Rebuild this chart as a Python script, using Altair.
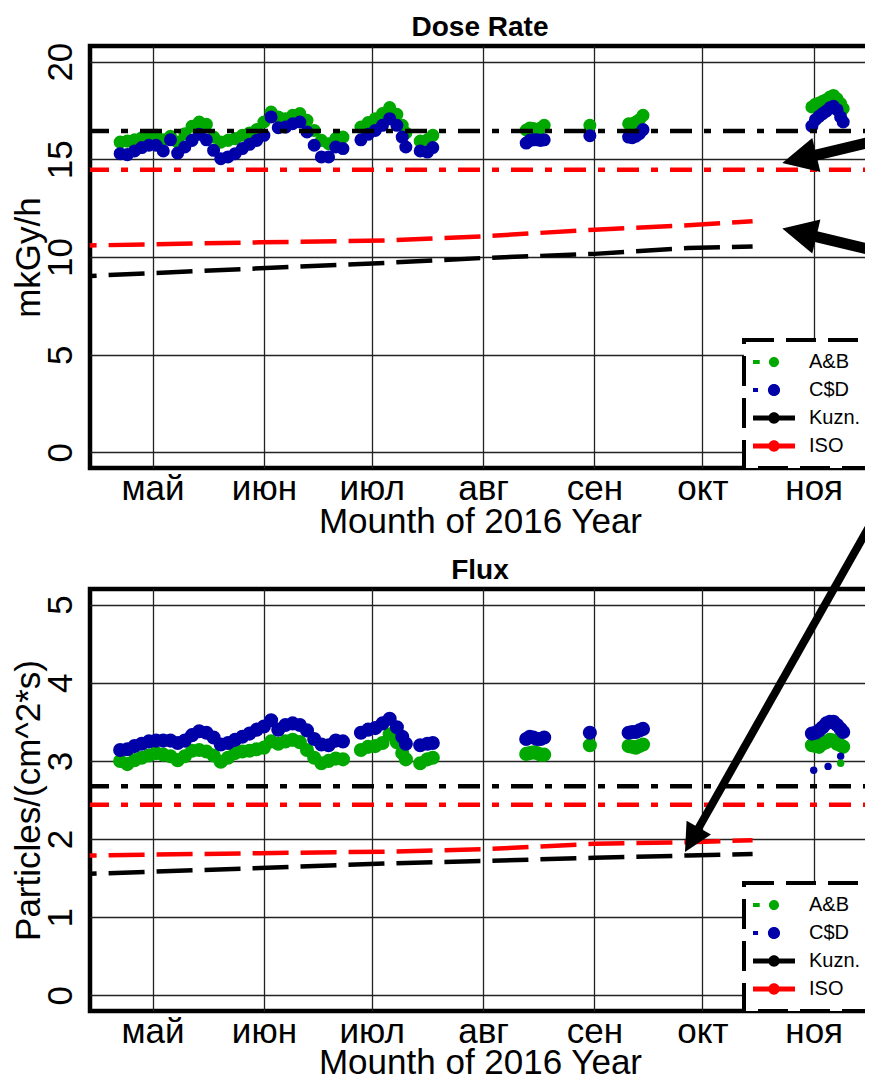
import altair as alt
import pandas as pd

FONT = "Liberation Sans"
MONTH_LABELS = ['янв', 'фев', 'мар', 'апр', 'май', 'июн', 'июл', 'авг', 'сен', 'окт', 'ноя', 'дек']
TICK_MONTHS = [5, 6, 7, 8, 9, 10, 11]
SERIES = ["A&B", "C$D", "Kuzn.", "ISO"]
SERIES_COLORS = ["#00A800", "#0000A8", "#000000", "#FF0000"]
LEGEND_SHAPES = [
    "M-1,-0.1L-0.68,-0.1L-0.68,0.1L-1,0.1Z M-0.24,0A0.24,0.24,0,1,1,0.24,0A0.24,0.24,0,1,1,-0.24,0Z",
    "M-1,-0.1L-0.76,-0.1L-0.76,0.1L-1,0.1Z M-0.29,0A0.29,0.29,0,1,1,0.29,0A0.29,0.29,0,1,1,-0.29,0Z",
    "M-1,-0.12L1,-0.12L1,0.12L-1,0.12Z M-0.27,0A0.27,0.27,0,1,1,0.27,0A0.27,0.27,0,1,1,-0.27,0Z",
    "M-1,-0.12L1,-0.12L1,0.12L-1,0.12Z M-0.27,0A0.27,0.27,0,1,1,0.27,0A0.27,0.27,0,1,1,-0.27,0Z",
]
ARROW_HEAD = "M0,0L2,-1L2,1Z"
COLOR_OF = dict(zip(SERIES, SERIES_COLORS))

X_START = alt.DateTime(year=2016, month=4, date=13, hours=14, minutes=34)
X_END = alt.DateTime(year=2016, month=11, date=16, hours=16)

# ---- measured series (sample times) ----
band_dates = [
    "2016-04-22T00:00", "2016-04-24T00:00", "2016-04-26T00:00", "2016-04-28T00:00", "2016-04-30T00:00",
    "2016-05-02T00:00", "2016-05-04T00:00", "2016-05-06T00:00", "2016-05-08T00:00", "2016-05-10T00:00",
    "2016-05-12T00:00", "2016-05-14T00:00", "2016-05-16T00:00", "2016-05-18T00:00", "2016-05-20T00:00",
    "2016-05-22T00:00", "2016-05-24T00:00", "2016-05-26T00:00", "2016-05-28T00:00", "2016-05-30T00:00",
    "2016-06-01T00:00", "2016-06-03T00:00", "2016-06-05T00:00", "2016-06-07T00:00", "2016-06-09T00:00",
    "2016-06-11T00:00", "2016-06-13T00:00", "2016-06-15T00:00", "2016-06-17T00:00", "2016-06-19T00:00",
    "2016-06-21T00:00", "2016-06-23T00:00",
    "2016-06-28T00:00", "2016-06-30T00:00", "2016-07-02T00:00", "2016-07-04T00:00", "2016-07-06T00:00",
    "2016-07-08T00:00", "2016-07-09T12:00", "2016-07-10T12:00",
    "2016-07-14T12:00", "2016-07-16T12:00", "2016-07-18T00:00",
    "2016-08-13T00:00", "2016-08-14T00:00", "2016-08-15T00:00", "2016-08-16T00:00", "2016-08-17T00:00",
    "2016-08-18T00:00",
    "2016-08-30T17:00",
    "2016-09-10T12:00", "2016-09-11T12:00", "2016-09-12T12:00", "2016-09-13T12:00", "2016-09-14T12:00",
    "2016-10-31T12:00", "2016-11-01T12:00", "2016-11-02T12:00", "2016-11-03T12:00", "2016-11-04T12:00",
    "2016-11-05T12:00", "2016-11-06T12:00", "2016-11-07T12:00", "2016-11-08T12:00", "2016-11-09T05:00",
]

dose_ab = [
    15.88, 15.93, 16.00, 16.10, 16.20, 16.23, 16.00, 16.18, 15.88, 16.31,
    16.69, 16.91, 16.79, 16.14, 15.88, 15.97, 16.06, 16.23, 16.35, 16.52,
    16.91, 17.42, 17.17, 17.08, 17.25, 17.34, 17.00, 16.48, 15.97, 15.80,
    16.06, 16.14, 16.65, 16.88, 17.08, 17.34, 17.65, 17.30, 16.74, 16.35,
    15.93, 16.00, 16.23,
    16.50, 16.60, 16.57, 16.50, 16.60, 16.74,
    16.74,
    16.82, 16.82, 16.91, 17.03, 17.25,
    17.68, 17.82, 17.88, 17.97, 18.05, 18.19, 18.27, 18.10, 17.85, 17.59,
]
dose_cd = [
    15.29, 15.24, 15.43, 15.60, 15.72, 15.72, 15.43, 16.00, 15.32, 15.63,
    15.97, 16.28, 16.00, 15.46, 15.03, 15.12, 15.29, 15.55, 15.77, 15.97,
    16.23, 17.17, 16.62, 16.65, 16.82, 16.91, 16.40, 15.72, 15.12, 15.12,
    15.63, 15.55, 16.00, 16.28, 16.48, 16.74, 17.08, 16.74, 16.14, 15.63,
    15.43, 15.37, 15.60,
    15.83, 15.97, 16.00, 16.00, 15.97, 16.00,
    16.21,
    16.14, 16.11, 16.18, 16.31, 16.52,
    16.70, 17.03, 17.20, 17.34, 17.47, 17.64, 17.71, 17.54, 17.17, 16.91,
]
flux_ab = [
    3.00, 2.96, 3.01, 3.04, 3.07, 3.10, 3.08, 3.06, 3.01, 3.06,
    3.13, 3.14, 3.12, 3.07, 2.99, 3.04, 3.10, 3.12, 3.13, 3.15,
    3.17, 3.25, 3.22, 3.25, 3.27, 3.24, 3.14, 3.04, 2.97, 3.00,
    3.03, 3.02, 3.14, 3.18, 3.19, 3.23, 3.34, 3.24, 3.10, 3.02,
    2.97, 3.02, 3.04,
    3.09, 3.10, 3.11, 3.10, 3.08, 3.08,
    3.20,
    3.19, 3.18, 3.17, 3.19, 3.21,
    3.20, 3.19, 3.18, 3.22, 3.24, 3.27, 3.26, 3.22, 3.20, 3.18,
]
flux_cd = [
    3.14, 3.15, 3.19, 3.22, 3.25, 3.26, 3.26, 3.26, 3.23, 3.26,
    3.33, 3.38, 3.36, 3.30, 3.21, 3.23, 3.27, 3.31, 3.35, 3.40,
    3.44, 3.52, 3.40, 3.46, 3.48, 3.46, 3.39, 3.28, 3.21, 3.20,
    3.26, 3.25, 3.36, 3.40, 3.42, 3.48, 3.54, 3.43, 3.31, 3.22,
    3.20, 3.22, 3.23,
    3.28, 3.31, 3.30, 3.28, 3.28, 3.30,
    3.36,
    3.36, 3.37, 3.37, 3.39, 3.41,
    3.35, 3.36, 3.39, 3.43, 3.48, 3.50, 3.50, 3.46, 3.41, 3.37,
]

flux_out_dates = ["2016-11-01T00:00", "2016-11-05T00:00", "2016-11-08T12:00", "2016-11-08T12:00"]
flux_out_series = ["C$D", "C$D", "C$D", "A&B"]
flux_out_values = [2.88, 2.93, 3.06, 2.97]

# ---- reference levels ----
dose_levels = {"Kuzn.": 16.45, "ISO": 14.47}
flux_levels = {"Kuzn.": 2.675, "ISO": 2.44}

trend_dates = ["2016-04-13T12:00", "2016-05-31T00:00", "2016-07-06T00:00", "2016-08-01T00:00",
               "2016-09-01T00:00", "2016-09-27T00:00", "2016-10-15T00:00"]
dose_kuzn_trend = [9.03, 9.42, 9.71, 9.95, 10.16, 10.46, 10.54]
dose_iso_trend = [10.59, 10.75, 10.85, 11.06, 11.40, 11.62, 11.83]
flux_kuzn_trend = [1.555, 1.63, 1.69, 1.72, 1.76, 1.79, 1.81]
flux_iso_trend = [1.79, 1.82, 1.84, 1.87, 1.94, 1.96, 1.985]

# ---- annotation arrows (tip, shaft start, tail) ----
dose_arrow_tip_dates = ["2016-10-23T06:14", "2016-10-23T06:14"]
dose_arrow_tip_values = [14.81, 11.46]
dose_arrow_angles = [346.6, 13.4]
dose_arrow_sizes = [1225, 1225]
dose_arrow_start_dates = ["2016-10-30T00:30", "2016-10-30T00:30"]
dose_arrow_start_values = [15.10, 11.16]
dose_arrow_end_dates = ["2016-11-16T16:00", "2016-11-16T16:00"]
dose_arrow_end_values = [15.88, 10.38]

flux_arrow_tip_dates = ["2016-09-26T04:19"]
flux_arrow_tip_values = [1.835]
flux_arrow_angles = [299.5]
flux_arrow_sizes = [784]
flux_arrow_start_dates = ["2016-09-28T22:19"]
flux_arrow_start_values = [2.057]
flux_arrow_end_dates = ["2016-11-16T09:21"]
flux_arrow_end_values = [5.996]

PLOT_W = 780
PLOT_H = 422

direct_color = alt.Color("col:N", scale=None)

legend_def = alt.Legend(
    title=None, orient="bottom-right", offset=0, fillColor="white", strokeColor="black",
    padding=9, symbolSize=1764, symbolStrokeWidth=0, symbolOpacity=1,
    labelFont=FONT, labelFontSize=20, labelColor="black", labelOffset=14,
    clipHeight=26, rowPadding=2,
)

month_expr = "[" + ",".join("'%s'" % m for m in MONTH_LABELS) + "][month(datum.value)]"


def panel(title, ab, cd, out, levels, kuzn_trend, iso_trend, ydom, yticks, ytitle,
          arrows, point_size, shaft_width, arrow_clip, xtitle_y):
    x_scale = alt.Scale(domain=[X_START, X_END], nice=False)
    x_axis = alt.Axis(
        values=[alt.DateTime(year=2016, month=m, date=1) for m in TICK_MONTHS],
        labelExpr=month_expr, title="Mounth of 2016 Year", grid=True, ticks=False, domain=False,
        labelFlush=False, labelBaseline="alphabetic", labelAlign="center", labelPadding=31,
        titleBaseline="alphabetic", titleY=xtitle_y, titleX=PLOT_W / 2, titleAlign="center",
    )
    y_axis = alt.Axis(
        values=yticks, title=ytitle, grid=True, ticks=False, domain=False,
        labelAngle=270, labelAlign="center", labelBaseline="alphabetic", labelPadding=19,
        titleAngle=270, titleBaseline="alphabetic", titleX=-51, titleY=PLOT_H / 2, titleAlign="center",
    )
    x_enc = alt.X("date:T", scale=x_scale, axis=x_axis)
    y_enc = alt.Y("value:Q", scale=alt.Scale(domain=ydom, nice=False, zero=False), axis=y_axis)

    bands = pd.DataFrame({
        "date": band_dates + band_dates,
        "value": ab + cd,
        "series": ["A&B"] * len(ab) + ["C$D"] * len(cd),
    })
    bands["col"] = bands["series"].map(COLOR_OF)
    layers = [alt.Chart(bands).mark_circle(size=point_size, opacity=1).encode(
        x=x_enc, y=y_enc, color=direct_color)]
    if out is not None:
        out = out.copy()
        out["col"] = out["series"].map(COLOR_OF)
        layers.append(alt.Chart(out).mark_circle(size=55, opacity=1).encode(
            x=x_enc, y=y_enc, color=direct_color))

    hdf = pd.DataFrame({"series": list(levels.keys()), "value": list(levels.values())})
    hdf["col"] = hdf["series"].map(COLOR_OF)
    layers.append(alt.Chart(hdf).mark_rule(strokeWidth=4.5, strokeDash=[22, 12, 7, 12],
                                           strokeDashOffset=34).encode(y=y_enc, color=direct_color))

    tdf = pd.DataFrame({
        "date": trend_dates + trend_dates,
        "value": kuzn_trend + iso_trend,
        "series": ["Kuzn."] * len(kuzn_trend) + ["ISO"] * len(iso_trend),
    })
    tdf["col"] = tdf["series"].map(COLOR_OF)
    layers.append(alt.Chart(tdf).mark_line(strokeWidth=4.5, strokeDash=[36, 12],
                                           strokeDashOffset=29).encode(
        x=x_enc, y=y_enc, color=direct_color, detail="series:N"))

    tip_d, tip_v, ang, siz, st_d, st_v, en_d, en_v = arrows
    sdf = pd.DataFrame({"date": st_d, "value": st_v, "date2": en_d, "value2": en_v})
    layers.append(alt.Chart(sdf).mark_rule(color="black", strokeWidth=shaft_width, clip=arrow_clip).encode(
        x=x_enc, y=y_enc, x2="date2:T", y2="value2:Q"))
    hdf2 = pd.DataFrame({"date": tip_d, "value": tip_v, "angle": ang, "size": siz})
    layers.append(alt.Chart(hdf2).mark_point(shape=ARROW_HEAD, filled=True, color="black", opacity=1,
                                             strokeWidth=0, clip=arrow_clip).encode(
        x=x_enc, y=y_enc, angle=alt.Angle("angle:Q", scale=None), size=alt.Size("size:Q", scale=None)))

    # panel title
    layers.append(alt.Chart(pd.DataFrame({"label": [title]})).mark_text(
        font=FONT, fontSize=28, fontWeight="bold", color="black", align="center", baseline="alphabetic"
    ).encode(text="label:N", x=alt.value(PLOT_W / 2), y=alt.value(-10)))

    ldf = pd.DataFrame({"series": SERIES})
    layers.append(alt.Chart(ldf).mark_point(filled=True, opacity=0).encode(
        color=alt.Color("series:N", scale=alt.Scale(domain=SERIES, range=SERIES_COLORS), legend=legend_def),
        shape=alt.Shape("series:N", scale=alt.Scale(domain=SERIES, range=LEGEND_SHAPES), legend=legend_def),
    ))

    return alt.layer(*layers).properties(width=PLOT_W, height=PLOT_H)


dose_arrows = (dose_arrow_tip_dates, dose_arrow_tip_values, dose_arrow_angles, dose_arrow_sizes,
               dose_arrow_start_dates, dose_arrow_start_values, dose_arrow_end_dates, dose_arrow_end_values)
flux_arrows = (flux_arrow_tip_dates, flux_arrow_tip_values, flux_arrow_angles, flux_arrow_sizes,
               flux_arrow_start_dates, flux_arrow_start_values, flux_arrow_end_dates, flux_arrow_end_values)

flux_out = pd.DataFrame({"date": flux_out_dates, "value": flux_out_values, "series": flux_out_series})

top = panel("Dose Rate", dose_ab, dose_cd, None, dose_levels, dose_kuzn_trend, dose_iso_trend,
            [-0.8, 20.8], [0, 5, 10, 15, 20], "mkGy/h", dose_arrows, 170, 11, True, 64)
bottom = panel("Flux", flux_ab, flux_cd, flux_out, flux_levels, flux_kuzn_trend, flux_iso_trend,
               [-0.2, 5.2], [0, 1, 2, 3, 4, 5], "Particles/(cm^2*s)", flux_arrows, 200, 8, False, 62)

chart = alt.vconcat(top, bottom, spacing=121, bounds="flush").resolve_scale(
    color="independent", shape="independent", x="independent", y="independent"
).resolve_legend(
    color="independent", shape="independent"
).properties(
    padding={"left": 0, "top": 3, "right": -11, "bottom": -5},
    background="white",
).configure_axis(
    labelFont=FONT, labelFontSize=35, labelColor="black",
    titleFont=FONT, titleFontSize=35, titleFontWeight="normal", titleColor="black",
    gridColor="#222222", gridWidth=1.3, gridOpacity=1,
).configure_view(
    stroke="black", strokeWidth=4.5,
).configure_legend(
    strokeDash=[30, 12], strokeWidth=4,
)

chart.save("out.html", embed_options={"renderer": "svg", "actions": False})
